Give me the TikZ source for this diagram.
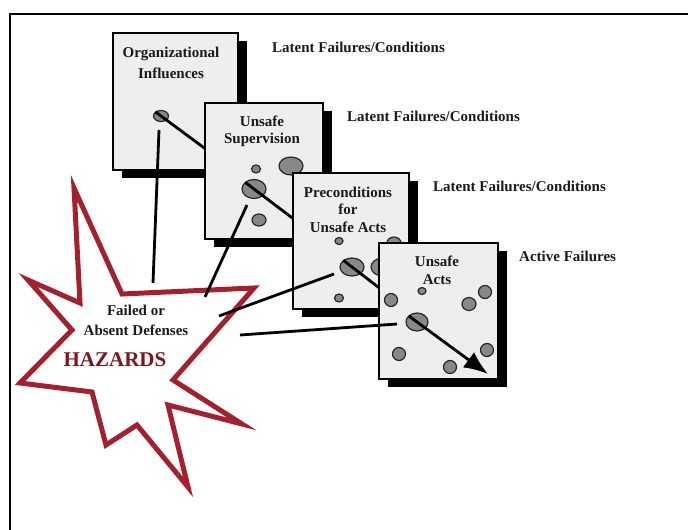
\documentclass[tikz,border=0pt]{standalone}
\usepackage{fontspec}
\setmainfont{Liberation Serif}
\usetikzlibrary{shadows,arrows.meta,calc,shapes.geometric}
\definecolor{boxfill}{HTML}{EEEEEE}
\definecolor{dotfill}{HTML}{888888}
\definecolor{dotline}{HTML}{262626}
\definecolor{starred}{HTML}{A3202C}
\definecolor{hazred}{HTML}{7E1620}
\definecolor{ink}{HTML}{1A1A1A}
\begin{document}
\begin{tikzpicture}[x=1pt,y=-1pt,
  layer/.style={draw=black, line width=1.4pt, fill=boxfill, inner sep=0pt,
    drop shadow={fill=black, opacity=1, shadow xshift=9pt, shadow yshift=-8pt}},
  layertitle/.style={font=\bfseries\fontsize{15}{17.5}\selectfont, text=ink, align=center, inner sep=0pt},
  sidetext/.style={font=\bfseries\fontsize{15}{17}\selectfont, text=ink, anchor=west, inner sep=0pt},
  dot/.style={ellipse, draw=dotline, line width=1.2pt, fill=dotfill, inner sep=0pt},
  link/.style={draw=black, line width=2.8pt},
  hazard/.style={draw=starred, line width=5pt, fill=white, line join=miter, miter limit=20}
]
\useasboundingbox (0,0) rectangle (688,530);

% frame
\coordinate (fTR) at (690,14);
\coordinate (fTL) at (10,14);
\coordinate (fBL) at (10,532);
\draw[line width=1.8pt] (fTR) -- (fTL) -- (fBL);

% star
\draw[hazard] (74,188) -- (122,294) -- (254,288) -- (173,380) -- (242,424) -- (168,405)
  -- (188,487) -- (137,425) -- (106,445) -- (92,392) -- (20,383) -- (72,330)
  -- (28,280) -- (80,303) -- cycle;
\node[font=\bfseries\fontsize{15}{20}\selectfont, text=ink, align=center, inner sep=0pt] (fail) at (136,320) {Failed or\\Absent Defenses};
\node[font=\bfseries\fontsize{21}{24}\selectfont, text=hazred, inner sep=0pt] (haz) at (115,360) {HAZARDS};

% ---------- layer 1
\node[layer, minimum width=125pt, minimum height=137pt] (b1) at (175.5,101.5) {};
\node[layertitle, font=\bfseries\fontsize{15}{21}\selectfont] (t1) at (171,62.5) {Organizational\\Influences};
\node[dot, minimum width=15pt, minimum height=11pt] (d1) at (161,116) {};
\coordinate (e1) at (207,150);
\draw[link] ($(d1.center)!-7pt!(e1)$) -- (e1);
\coordinate (s1) at (159,130);
\coordinate (h1) at (153,283);
\draw[link] (s1) -- (h1);

% ---------- layer 2
\node[layer, minimum width=118pt, minimum height=136pt] (b2) at (264,171) {};
\node[layertitle] (t2) at (262,131.5) {Unsafe\\Supervision};
\node[dot, minimum width=9pt, minimum height=8pt] (d2a) at (256,169) {};
\node[dot, minimum width=24pt, minimum height=18pt] (d2b) at (291,166) {};
\node[dot, minimum width=14pt, minimum height=12pt] (d2c) at (259,220) {};
\node[dot, minimum width=24pt, minimum height=19pt] (d2) at (254,189) {};
\coordinate (e2) at (295,220);
\draw[link] ($(d2.center)!-11pt!(e2)$) -- (e2);
\coordinate (s2) at (247,205);
\coordinate (h2) at (205,297);
\draw[link] (s2) -- (h2);

% ---------- layer 3
\node[layer, minimum width=116pt, minimum height=136pt] (b3) at (351,241) {};
\node[layertitle] (t3) at (348,209.5) {Preconditions\\for\\Unsafe Acts};
\node[dot, minimum width=8pt, minimum height=7pt] (d3a) at (339,241) {};
\node[dot, minimum width=24pt, minimum height=18pt] (d3b) at (383,267) {};
\node[dot, minimum width=14pt, minimum height=12pt] (d3c) at (394,243) {};
\node[dot, minimum width=9pt, minimum height=8pt] (d3d) at (339,298) {};
\node[dot, minimum width=24pt, minimum height=18pt] (d3) at (352,267) {};
\coordinate (e3) at (382,290);
\draw[link] ($(d3.center)!-11pt!(e3)$) -- (e3);
\coordinate (s3) at (334,274);
\coordinate (h3) at (219,316);
\draw[link] (s3) -- (h3);

% ---------- layer 4
\node[layer, minimum width=119pt, minimum height=136pt] (b4) at (438.5,311) {};
\node[layertitle, font=\bfseries\fontsize{15}{18}\selectfont] (t4) at (437,270) {Unsafe\\Acts};
\node[dot, minimum width=8pt, minimum height=7pt] (d4a) at (422,291) {};
\node[dot, minimum width=13pt, minimum height=13pt] (d4b) at (391,300) {};
\node[dot, minimum width=14pt, minimum height=13pt] (d4c) at (469,304) {};
\node[dot, minimum width=13pt, minimum height=13pt] (d4d) at (485,292) {};
\node[dot, minimum width=13pt, minimum height=13pt] (d4e) at (399,354) {};
\node[dot, minimum width=13pt, minimum height=13pt] (d4f) at (450,367) {};
\node[dot, minimum width=13pt, minimum height=13pt] (d4g) at (487,350) {};
\node[dot, minimum width=22pt, minimum height=18pt] (d4) at (417,322) {};
\coordinate (e4) at (488,374);
\draw[link, -{Latex[length=24pt,width=19pt]}] ($(d4.center)!-10pt!(e4)$) -- (e4);
\coordinate (s4) at (397,324);
\coordinate (h4) at (240,335);
\draw[link] (s4) -- (h4);

% side labels
\node[sidetext] (l1) at (272,47) {Latent Failures/Conditions};
\node[sidetext] (l2) at (347,116) {Latent Failures/Conditions};
\node[sidetext] (l3) at (433,186) {Latent Failures/Conditions};
\node[sidetext] (l4) at (519,256) {Active Failures};
\end{tikzpicture}
\end{document}
